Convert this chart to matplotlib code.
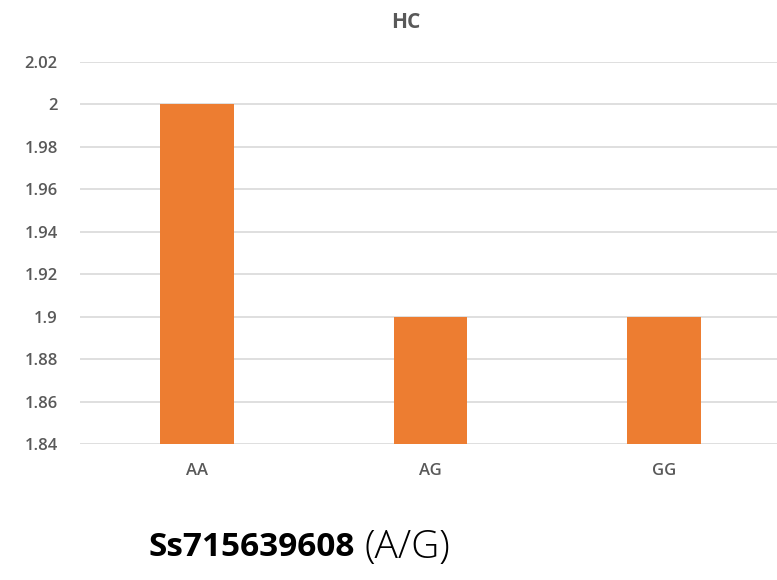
import matplotlib.pyplot as plt

# genotype means for HC
genotypes = ['AA', 'AG', 'GG']
values = [2.0, 1.9, 1.9]
yticks = [1.84, 1.86, 1.88, 1.9, 1.92, 1.94, 1.96, 1.98, 2, 2.02]
ytick_labels = ['1.84', '1.86', '1.88', '1.9', '1.92', '1.94', '1.96', '1.98', '2', '2.02']

plt.rcParams['font.family'] = ['Open Sans', 'DejaVu Sans']

W, H = 777, 580
fig = plt.figure(figsize=(W / 100, H / 100), dpi=100)
ax = fig.add_axes([80 / W, 1 - 444 / H, 1 - 80 / W, (444 - 62) / H])

ax.bar(range(len(genotypes)), values, width=0.315, color='#ED7D31', zorder=3)

ax.set_ylim(1.84, 2.02)
ax.set_xlim(-0.5, 2.5 - 4 / 234)
ax.set_yticks(yticks)
ax.set_yticklabels(ytick_labels)
ax.set_xticks(range(len(genotypes)))
ax.set_xticklabels(genotypes)

ax.grid(axis='y', color='#D9D9D9', linewidth=1.2, zorder=0)
for s in ax.spines.values():
    s.set_visible(False)
ax.tick_params(axis='both', length=0, colors='#595959', labelsize=12)
for lbl in ax.get_yticklabels() + ax.get_xticklabels():
    lbl.set_fontweight('semibold')
ax.tick_params(axis='y', pad=16)
ax.tick_params(axis='x', pad=14)

fig.text(406 / W, 1 - 22 / H, 'HC', ha='center', va='center',
         fontsize=15, fontweight='bold', color='#595959')

fig.text(148 / W, 1 - 548 / H, 'Ss715639608', ha='left', va='center',
         fontsize=24, fontweight='bold', color='black')
fig.text(364 / W, 1 - 548 / H, '(A/G)', ha='left', va='center',
         fontsize=28, fontweight='light', color='black')

fig.savefig('out.png', dpi=100)
